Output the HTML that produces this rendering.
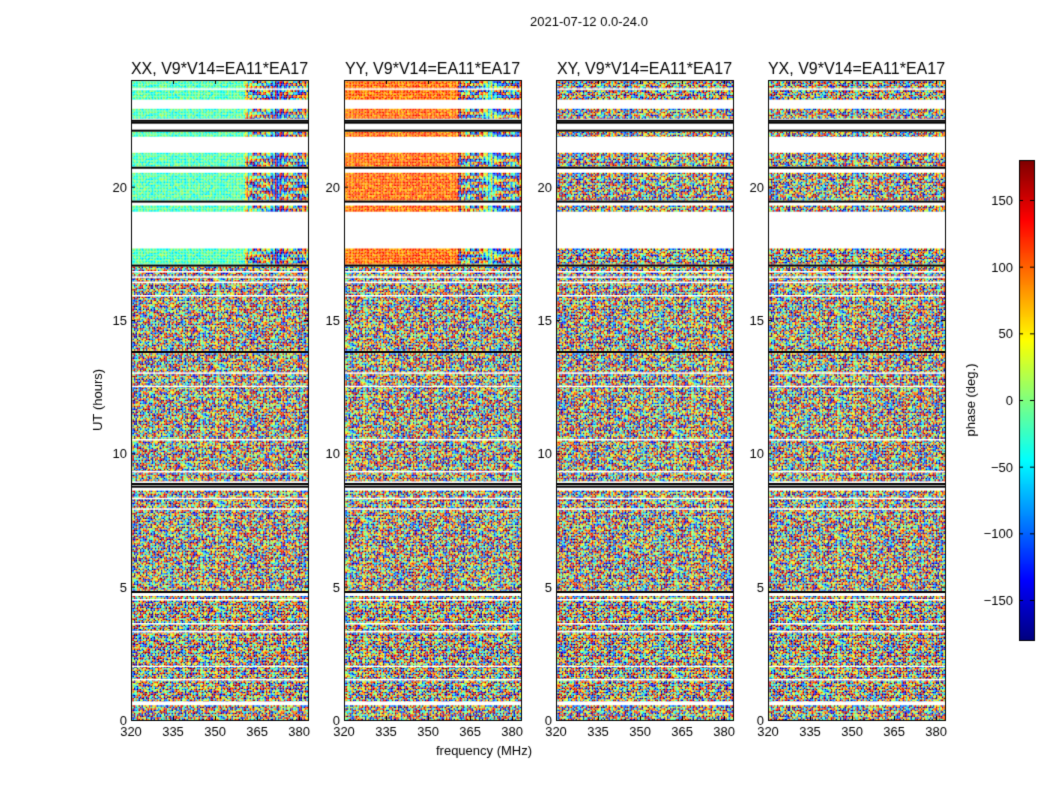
<!DOCTYPE html>
<html><head><meta charset="utf-8"><style>
body{margin:0;background:#fff;font-family:"Liberation Sans","DejaVu Sans",sans-serif;}
#wrap{position:relative;width:1050px;height:800px;overflow:hidden;background:#fff}
canvas{position:absolute;left:0;top:0}
</style></head><body>
<div id="wrap">
<canvas id="c" width="1050" height="800"></canvas>
</div>
<script>
// ---- data ----
const panelTitles=["XX, V9*V14=EA11*EA17","YY, V9*V14=EA11*EA17","XY, V9*V14=EA11*EA17","YX, V9*V14=EA11*EA17"];
const bandStart=[0.0,0.7,4.85,8.95,13.85,17.08,19.06,19.48,20.75,21.87,22.55,23.26];
const bandEnd  =[0.55,4.65,8.6,13.75,17.0,17.68,19.29,20.52,21.27,22.06,22.92,24.0];
const bandCoherent=[0,0,0,0,0,1,1,1,1,1,1,1];
const panelMeanPhase=[-20,95,0,0];
const panelCoherent=[1,1,0,0];
const whiteLines=[1.5,2.0,3.3,3.6,4.5,7.9,8.3,9.3,10.5,12.5,13.0,15.9,16.4,16.6,16.8,23.65];
const blackLines=[4.8,8.75,8.85,13.8,17.04,19.44,20.71,22.1,22.4,22.47];
const texture=[12,-150,88,170,-40,-95,35,140,-175,60,-10,110,-120,5,155,-60,75,-165,25,-85,130,-30,95,-140,50,165,-5,-110,20,145,-70,100];
const xTicks=[320,335,350,365,380];
const yTicks=[0,5,10,15,20];
const cbTicks=[-150,-100,-50,0,50,100,150];
// ---- layout ----
const panelX=[131,344,556,768], pw=177, plotTop=80, plotBot=720;
const fMin=320,fMax=383.2;
const xs=(f,p)=>panelX[p]+(f-fMin)/(fMax-fMin)*pw;
const ys=h=>plotBot-(h/24)*(plotBot-plotTop);
function jet(v){
  const r=Math.min(Math.max(1.5-Math.abs(4*v-3),0),1),g=Math.min(Math.max(1.5-Math.abs(4*v-2),0),1),b=Math.min(Math.max(1.5-Math.abs(4*v-1),0),1);
  return `rgb(${r*255|0},${g*255|0},${b*255|0})`;
}
const ph2v=p=>{p=((p+180)%360+360)%360;return p/360;};
const cv=document.getElementById('c'),ctx=cv.getContext('2d');
ctx.font="13px 'Liberation Sans',sans-serif";ctx.fillStyle="#000";ctx.textAlign="center";
ctx.fillText("2021-07-12 0.0-24.0",589,26);
const cell=1.5;
for(let p=0;p<4;p++){
  for(let b=0;b<bandStart.length;b++){
    const y0=ys(bandEnd[b]),y1=ys(bandStart[b]);
    for(let y=y0,j=0;y<y1;y+=cell,j++){
      for(let x=panelX[p],i=0;x<panelX[p]+pw;x+=cell,i++){
        const t=texture[(i*7+j*13+p*5+((i*j)%11))%texture.length];
        const f=fMin+(x-panelX[p])/pw*(fMax-fMin);
        let ph;
        if(bandCoherent[b]&&panelCoherent[p]){
          ph = f<360 ? panelMeanPhase[p]+t*0.2 : panelMeanPhase[p]+(f-360)*30*(((j>>1)%4)-1.5)+(i%3)*60+t*0.3;
        } else ph=t;
        ctx.fillStyle=jet(ph2v(ph));
        ctx.fillRect(x,y,cell,Math.min(cell,y1-y));
      }
    }
  }
  ctx.fillStyle="#fff";
  whiteLines.forEach(h=>ctx.fillRect(panelX[p],ys(h)-1,pw,1.5));
  ctx.fillStyle="#000";
  blackLines.forEach(h=>ctx.fillRect(panelX[p],ys(h)-1,pw,2));
  ctx.strokeStyle="#000";ctx.lineWidth=1;ctx.strokeRect(panelX[p]+0.5,plotTop+0.5,pw,plotBot-plotTop);
  ctx.fillStyle="#000";ctx.font="16px 'Liberation Sans',sans-serif";ctx.textAlign="center";
  ctx.fillText(panelTitles[p],panelX[p]+pw/2,74);
  ctx.font="13px 'Liberation Sans',sans-serif";
  xTicks.forEach(f=>{const x=xs(f,p);ctx.fillRect(x,plotBot-4,1,4);ctx.fillRect(x,plotTop,1,4);ctx.fillText(f,x,736);});
  ctx.textAlign="right";
  yTicks.forEach(h=>{const y=ys(h);ctx.fillRect(panelX[p],y,4,1);ctx.fillRect(panelX[p]+pw-4,y,4,1);ctx.fillText(h,panelX[p]-4,y+5);});
}
ctx.textAlign="center";ctx.fillText("frequency (MHz)",484,755);
ctx.save();ctx.translate(102,400);ctx.rotate(-Math.PI/2);ctx.fillText("UT (hours)",0,0);ctx.restore();
// colorbar
const cbx=1019,cbw=15,cbt=160,cbb=640;
for(let y=cbt;y<cbb;y++){ctx.fillStyle=jet(1-(y-cbt)/(cbb-cbt));ctx.fillRect(cbx,y,cbw,1);}
ctx.strokeStyle="#000";ctx.strokeRect(cbx+0.5,cbt+0.5,cbw,cbb-cbt);
ctx.fillStyle="#000";ctx.textAlign="right";
cbTicks.forEach(v=>{const y=cbb-(v+180)/360*(cbb-cbt);ctx.fillRect(cbx,y,4,1);ctx.fillRect(cbx+cbw-4,y,4,1);ctx.fillText(String(v).replace('-','\u2212'),1013,y+5);});
ctx.save();ctx.translate(975,400);ctx.rotate(-Math.PI/2);ctx.textAlign="center";ctx.fillText("phase (deg.)",0,0);ctx.restore();
</script>
</body></html>
